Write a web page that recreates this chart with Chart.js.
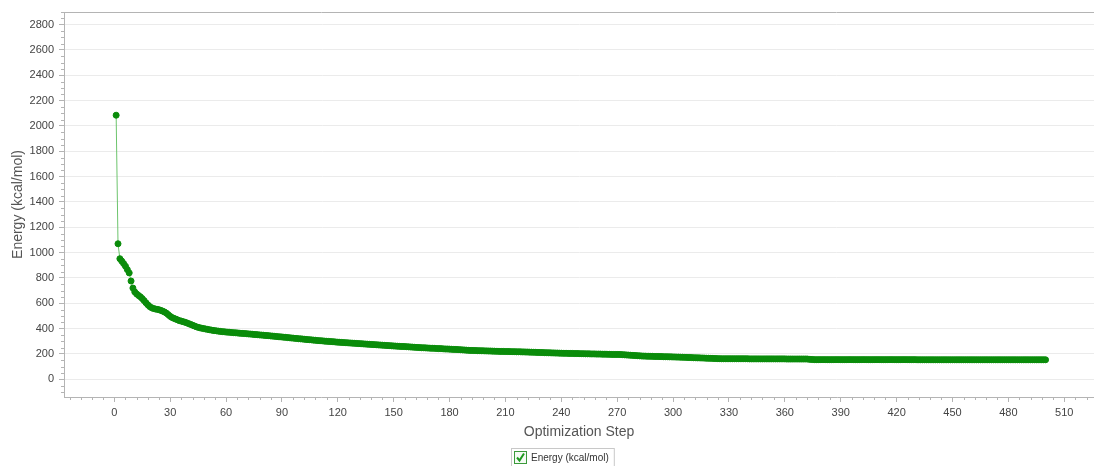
<!DOCTYPE html>
<html lang="en">
<head>
<meta charset="UTF-8">
<title>Energy Minimization</title>
<script src="https://cdn.jsdelivr.net/npm/chart.js"></script>
<style>
  html, body { margin: 0; padding: 0; background: #fff; }
  #wrap { width: 1094px; height: 466px; position: relative; }
</style>
</head>
<body>
<div id="wrap"><canvas id="energyChart"></canvas></div>
<script>
// chart data
const seriesLabel = 'Energy (kcal/mol)';
const xTitle = 'Optimization Step';
const yTitle = 'Energy (kcal/mol)';
const xTicks = [0, 30, 60, 90, 120, 150, 180, 210, 240, 270, 300, 330, 360, 390, 420, 450, 480, 510];
const yTicks = [0, 200, 400, 600, 800, 1000, 1200, 1400, 1600, 1800, 2000, 2200, 2400, 2600, 2800];
const firstStep = 1;
const energy = [
  2085, 1070, 952, 933, 914, 893, 866, 840, 776, 720,
  690, 674, 662, 651, 637, 621, 604, 588, 574, 565,
  559, 555, 552, 549, 544, 538, 531, 522, 510, 497,
  488, 481, 475, 469, 463, 459, 455, 450, 445, 439,
  433, 427, 421, 415, 410, 406, 403, 400, 397, 394,
  391, 389, 386, 384, 382, 380, 378, 376, 375, 373,
  372, 371, 369, 368, 367, 366, 364, 363, 362, 361,
  360, 358, 357, 356, 354, 353, 352, 350, 349, 348,
  346, 345, 344, 342, 341, 339, 338, 336, 335, 334,
  332, 331, 329, 328, 326, 325, 323, 322, 320, 319,
  318, 316, 315, 313, 312, 311, 309, 308, 306, 305,
  304, 303, 301, 300, 299, 298, 297, 296, 294, 293,
  292, 291, 290, 289, 288, 287, 286, 285, 284, 283,
  282, 281, 280, 279, 278, 277, 276, 275, 274, 273,
  272, 271, 270, 269, 268, 267, 266, 265, 264, 263,
  262, 261, 260, 259, 259, 258, 257, 256, 255, 254,
  253, 252, 251, 250, 249, 249, 248, 247, 246, 245,
  245, 244, 243, 242, 242, 241, 240, 239, 239, 238,
  237, 236, 236, 235, 234, 233, 232, 231, 230, 229,
  228, 228, 227, 227, 226, 226, 225, 225, 224, 224,
  223, 223, 222, 222, 221, 221, 220, 220, 220, 219,
  219, 219, 218, 218, 218, 217, 217, 217, 216, 216,
  215, 215, 214, 214, 213, 213, 212, 212, 211, 211,
  210, 210, 209, 209, 208, 208, 207, 207, 206, 206,
  205, 205, 205, 204, 204, 204, 203, 203, 203, 202,
  202, 202, 201, 201, 201, 200, 200, 200, 199, 199,
  199, 198, 198, 198, 197, 197, 196, 196, 196, 196,
  196, 195, 194, 193, 192, 191, 190, 189, 188, 187,
  186, 185, 184, 183, 183, 182, 182, 181, 181, 180,
  180, 180, 179, 179, 178, 178, 178, 177, 177, 176,
  176, 175, 175, 174, 174, 173, 173, 172, 172, 171,
  170, 170, 169, 169, 168, 168, 167, 166, 166, 165,
  165, 164, 164, 163, 163, 162, 162, 162, 162, 162,
  162, 162, 162, 162, 162, 162, 162, 162, 162, 162,
  161, 161, 161, 161, 161, 161, 161, 161, 161, 161,
  161, 161, 161, 161, 161, 161, 161, 161, 161, 161,
  160, 160, 160, 160, 160, 160, 160, 160, 160, 160,
  160, 160, 158, 157, 156, 155, 155, 155, 155, 155,
  155, 155, 155, 155, 155, 155, 155, 155, 155, 155,
  155, 155, 155, 155, 155, 155, 155, 155, 155, 155,
  155, 155, 155, 155, 155, 155, 155, 155, 155, 155,
  155, 155, 155, 155, 155, 155, 155, 155, 155, 155,
  155, 155, 155, 155, 155, 155, 155, 155, 155, 155,
  154, 154, 154, 154, 154, 154, 154, 154, 154, 154,
  154, 154, 154, 154, 154, 154, 154, 154, 154, 154,
  154, 154, 154, 154, 154, 154, 154, 154, 154, 154,
  154, 154, 154, 154, 154, 154, 154, 154, 154, 154,
  154, 154, 154, 154, 154, 154, 154, 154, 154, 154,
  154, 154, 154, 154, 154, 154, 154, 154, 154, 154,
  154, 154, 154, 154, 154, 154, 154, 154, 154, 154
];

const FONT = "'Liberation Sans', Arial, sans-serif";
const AXIS = '#b4b4b4';

// little checkbox used in the legend
function makeCheckBox() {
  const c = document.createElement('canvas');
  c.width = 13; c.height = 13;
  const g = c.getContext('2d');
  g.fillStyle = '#f4fbf4';
  g.fillRect(0, 0, 13, 13);
  g.strokeStyle = '#3b9a3b';
  g.lineWidth = 1;
  g.strokeRect(0.5, 0.5, 12, 12);
  g.strokeStyle = '#1f9a1f';
  g.lineWidth = 2;
  g.beginPath();
  g.moveTo(3, 6.5);
  g.lineTo(5.5, 9.5);
  g.lineTo(10, 2.5);
  g.stroke();
  return c;
}
const checkBox = makeCheckBox();

const extras = {
  id: 'extras',
  afterDraw(chart) {
    const { ctx, chartArea: a, scales: { x, y } } = chart;
    ctx.save();
    ctx.strokeStyle = AXIS;
    ctx.lineWidth = 1;
    ctx.beginPath();
    // top border of plot
    ctx.moveTo(a.left, a.top + 0.5);
    ctx.lineTo(a.right, a.top + 0.5);
    // minor ticks
    for (let v = -24; v <= 522; v += 6) {
      if (v % 30 === 0) continue;
      const px = Math.round(x.getPixelForValue(v)) + 0.5;
      ctx.moveTo(px, a.bottom);
      ctx.lineTo(px, a.bottom + 3);
    }
    for (let v = -100; v <= 2900; v += 50) {
      if (v % 200 === 0) continue;
      const py = Math.round(y.getPixelForValue(v)) + 0.5;
      ctx.moveTo(a.left, py);
      ctx.lineTo(a.left - 3, py);
    }
    ctx.stroke();

    // legend
    ctx.font = '10px ' + FONT;
    const text = chart.data.datasets[0].label;
    const tw = ctx.measureText(text).width;
    const bx = 511, by = 448, bh = 18;
    const bw = 3 + 13 + 4 + tw + 5;
    ctx.strokeStyle = '#c8c8c8';
    ctx.strokeRect(bx + 0.5, by + 0.5, bw, bh);
    ctx.drawImage(checkBox, bx + 3, by + 3);
    ctx.fillStyle = '#333';
    ctx.textBaseline = 'middle';
    ctx.fillText(text, bx + 3 + 13 + 4, by + bh / 2 + 1);
    ctx.restore();
  }
};

new Chart(document.getElementById('energyChart'), {
  type: 'line',
  data: {
    datasets: [{
      label: seriesLabel,
      data: energy.map((e, i) => ({ x: firstStep + i, y: e })),
      borderColor: '#6cc46c',
      borderWidth: 1,
      pointRadius: 3,
      pointBorderWidth: 1,
      pointBackgroundColor: '#0a8c0a',
      pointBorderColor: '#0a8c0a',
      tension: 0
    }]
  },
  options: {
    responsive: true,
    maintainAspectRatio: false,
    animation: false,
    layout: { autoPadding: false, padding: { top: 12, right: 0, left: 0, bottom: 0 } },
    plugins: {
      legend: { display: false },
      tooltip: { enabled: false }
    },
    scales: {
      x: {
        type: 'linear',
        min: -27,
        max: 526,
        afterBuildTicks: s => { s.ticks = xTicks.map(v => ({ value: v })); },
        afterFit: s => { s.height = 69; s.paddingLeft = 0; s.paddingRight = 0; },
        grid: { drawOnChartArea: false, drawTicks: true, tickLength: 5, tickColor: AXIS },
        border: { color: AXIS },
        ticks: { color: '#444', font: { family: FONT, size: 11 }, padding: 4, maxRotation: 0 },
        title: {
          display: true, text: xTitle, color: '#555',
          font: { family: FONT, size: 14 }, padding: { top: 0, bottom: 25 }
        }
      },
      y: {
        min: -140,
        max: 2900,
        afterBuildTicks: s => { s.ticks = yTicks.map(v => ({ value: v })); },
        afterFit: s => { s.width = 64; s.paddingTop = 0; s.paddingBottom = 0; },
        grid: { color: '#ebebeb', tickColor: AXIS, tickLength: 5 },
        border: { color: AXIS },
        ticks: {
          color: '#444', font: { family: FONT, size: 11 }, padding: 5,
          callback: v => String(v)
        },
        title: {
          display: true, text: yTitle, color: '#555',
          font: { family: FONT, size: 14 }, padding: { top: 10, bottom: 0 }
        }
      }
    }
  },
  plugins: [extras]
});
</script>
</body>
</html>
